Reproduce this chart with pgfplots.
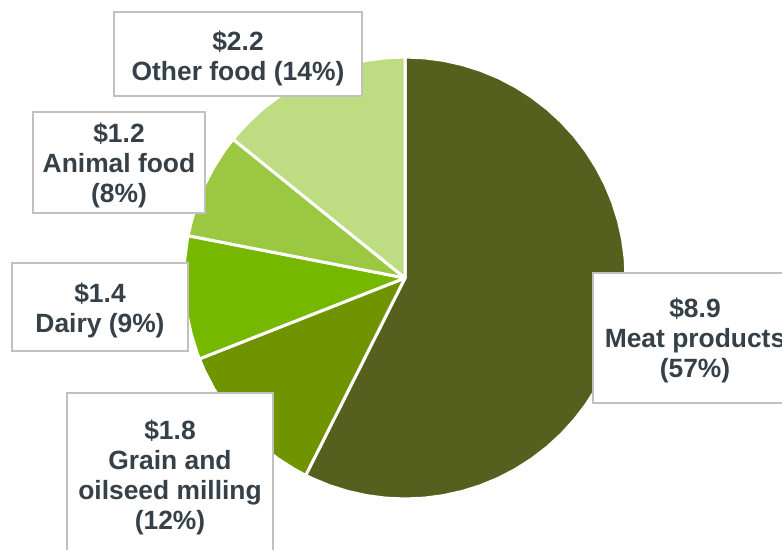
\documentclass[border=0pt]{standalone}
\usepackage{pgfplots}
\pgfplotsset{compat=1.18}
\usepgfplotslibrary{polar}
\usepackage{fontspec}
\setmainfont{Liberation Sans}
\definecolor{meat}{RGB}{85,96,30}
\definecolor{grain}{RGB}{112,147,0}
\definecolor{dairy}{RGB}{118,183,0}
\definecolor{animal}{RGB}{155,200,65}
\definecolor{other}{RGB}{190,220,130}
\definecolor{txt}{RGB}{54,64,72}
\definecolor{boxline}{RGB}{192,192,192}
\tikzset{lbl/.style={align=center, inner sep=0pt, text=txt,
  font=\bfseries\fontsize{13.2}{15}\selectfont}}
\begin{document}
\begin{tikzpicture}
\begin{axis}[scale only axis, width=391pt, height=275pt,
  xmin=-405, xmax=377, ymin=-272, ymax=278,
  hide axis, clip=false,
  every axis plot/.append style={data cs=polar, draw=white, line width=1.5pt, line join=round}]
% slices: (angle, radius), clockwise from 12 o'clock
\addplot[fill=meat] coordinates {(0,0) (90,221) (85,221) (80,221) (75,221) (70,221) (65,221) (60,221)
 (55,221) (50,221) (45,221) (40,221) (35,221) (30,221) (25,221) (20,221) (15,221) (10,221) (5,221)
 (0,221) (-5,221) (-10,221) (-15,221) (-20,221) (-25,221) (-30,221) (-35,221) (-40,221) (-45,221)
 (-50,221) (-55,221) (-60,221) (-65,221) (-70,221) (-75,221) (-80,221) (-85,221) (-90,221) (-95,221)
 (-100,221) (-105,221) (-110,221) (-115,221) (-116.71,221) (0,0)} -- cycle;
\addplot[fill=grain] coordinates {(0,0) (-116.71,221) (-120,221) (-125,221) (-130,221) (-135,221)
 (-140,221) (-145,221) (-150,221) (-155,221) (-158.52,221) (0,0)} -- cycle;
\addplot[fill=dairy] coordinates {(0,0) (-158.52,221) (-160,221) (-165,221) (-170,221) (-175,221)
 (-180,221) (-185,221) (-190,221) (-191.03,221) (0,0)} -- cycle;
\addplot[fill=animal] coordinates {(0,0) (-191.03,221) (-195,221) (-200,221) (-205,221) (-210,221)
 (-215,221) (-218.90,221) (0,0)} -- cycle;
\addplot[fill=other] coordinates {(0,0) (-218.90,221) (-220,221) (-225,221) (-230,221) (-235,221)
 (-240,221) (-245,221) (-250,221) (-255,221) (-260,221) (-265,221) (-270,221) (0,0)} -- cycle;

% label boxes
\draw[boxline, fill=white, line width=0.8pt] (axis cs:-291,266) rectangle (axis cs:-43,182);
\node[lbl] at (axis cs:-167,220) {\$2.2\\Other food (14\%)};
\draw[boxline, fill=white, line width=0.8pt] (axis cs:-372,166) rectangle (axis cs:-200,65);
\node[lbl] at (axis cs:-286,113) {\$1.2\\Animal food\\(8\%)};
\draw[boxline, fill=white, line width=0.8pt] (axis cs:-393,15) rectangle (axis cs:-217,-73);
\node[lbl] at (axis cs:-305,-32) {\$1.4\\Dairy (9\%)};
\draw[boxline, fill=white, line width=0.8pt] (axis cs:188,5) rectangle (axis cs:392,-125);
\node[lbl] at (axis cs:290,-62) {\$8.9\\Meat products\\(57\%)};
\draw[boxline, fill=white, line width=0.8pt] (axis cs:-338,-115) rectangle (axis cs:-132,-282);
\node[lbl] at (axis cs:-235,-199) {\$1.8\\Grain and\\oilseed milling\\(12\%)};
\end{axis}
\pgfresetboundingbox
\useasboundingbox (0,0) rectangle (391pt,275pt);
\end{tikzpicture}
\end{document}
